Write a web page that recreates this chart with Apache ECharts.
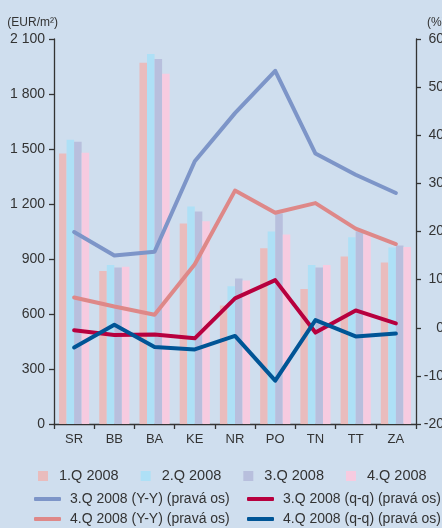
<!DOCTYPE html>
<html>
<head>
<meta charset="utf-8">
<script src="https://cdn.jsdelivr.net/npm/echarts@6/dist/echarts.min.js"></script>
<style>
  html, body { margin: 0; padding: 0; background: #cfdeee; }
  #chart { width: 442px; height: 528px; }
</style>
</head>
<body>
<div id="chart"></div>
<script>
// kraje
const regions = ['SR', 'BB', 'BA', 'KE', 'NR', 'PO', 'TN', 'TT', 'ZA']

// ceny (EUR/m2), lava os
const q1 = [1475, 834, 1970, 1094, 647, 958, 736, 914, 881]
const q2 = [1551, 867, 2018, 1186, 751, 1050, 867, 1019, 963]
const q3 = [1540, 854, 1991, 1159, 794, 1148, 854, 1052, 974]
const q4 = [1480, 858, 1911, 1106, 783, 1034, 867, 1034, 965]

// zmeny (%), prava os
const q3yy = [19.9, 15.0, 15.8, 34.6, 44.6, 53.4, 36.2, 31.8, 28.0]
const q4yy = [6.3, 4.4, 2.7, 13.2, 28.5, 23.9, 25.9, 20.6, 17.4]
const q3qq = [-0.5, -1.5, -1.4, -2.2, 6.1, 9.9, -1.0, 3.6, 0.9]
const q4qq = [-4.1, 0.6, -4.0, -4.5, -1.7, -11.0, 1.6, -1.8, -1.2]

const barNames = ['1.Q 2008', '2.Q 2008', '3.Q 2008', '4.Q 2008']
const lineNames = [
  '3.Q 2008 (Y-Y) (pravá os)',
  '4.Q 2008 (Y-Y) (pravá os)',
  '3.Q 2008 (q-q) (pravá os)',
  '4.Q 2008 (q-q) (pravá os)'
]

const font = "'Liberation Sans', Arial, sans-serif"
const txt = '#333333'

const chart = echarts.init(document.getElementById('chart'))

const bar = (name, data, color) => ({
  name: name,
  type: 'bar',
  yAxisIndex: 0,
  barGap: 0,
  barCategoryGap: '25%',
  itemStyle: { color: color },
  data: data
})

const line = (name, data, color) => ({
  name: name,
  type: 'line',
  yAxisIndex: 1,
  showSymbol: false,
  symbol: 'none',
  lineStyle: { width: 4, color: color, cap: 'round', join: 'round' },
  itemStyle: { color: color },
  data: data
})

const lineLegend = (left, names) => ({
  left: left,
  top: 491,
  padding: 0,
  orient: 'vertical',
  icon: 'roundRect',
  itemWidth: 27,
  itemHeight: 4,
  itemGap: 4,
  textStyle: { fontSize: 14, color: txt, lineHeight: 16, padding: [0, 0, 0, 4] },
  data: names
})

chart.setOption({
  backgroundColor: '#cfdeee',
  animation: false,
  textStyle: { fontFamily: font },
  // labels on the right run past the edge, like in the original
  grid: { left: 54, right: 26, top: 39, bottom: 104, outerBoundsMode: 'none' },
  legend: [
    {
      left: 38,
      top: 468,
      padding: 0,
      icon: 'rect',
      itemWidth: 10,
      itemHeight: 10,
      itemGap: 22,
      textStyle: { fontSize: 14.5, color: txt, lineHeight: 16, padding: [0, 0, 0, 6] },
      data: barNames
    },
    lineLegend(34, [lineNames[0], lineNames[1]]),
    lineLegend(247, [lineNames[2], lineNames[3]])
  ],
  xAxis: {
    type: 'category',
    data: regions,
    axisLine: { lineStyle: { color: '#333', width: 1.3 } },
    axisTick: { show: true, length: 5, lineStyle: { color: '#333', width: 1.3 } },
    axisLabel: { color: txt, fontSize: 13, margin: 9 }
  },
  yAxis: [
    {
      type: 'value',
      min: 0,
      max: 2100,
      interval: 300,
      name: '(EUR/m²)',
      nameLocation: 'end',
      nameGap: 10,
      nameTextStyle: { color: txt, fontSize: 12, align: 'right', padding: [0, -4, 0, 0] },
      splitLine: { show: false },
      axisLine: { show: true, lineStyle: { color: '#333', width: 1.3 } },
      axisTick: { show: true, length: 5, lineStyle: { color: '#333', width: 1.3 } },
      axisLabel: {
        color: txt,
        fontSize: 14,
        margin: 9,
        formatter: function (v) {
          return String(v).replace(/\B(?=(\d{3})+(?!\d))/g, ' ')
        }
      }
    },
    {
      type: 'value',
      min: -20,
      max: 60,
      interval: 10,
      name: '(%)',
      nameLocation: 'end',
      nameGap: 10,
      nameTextStyle: { color: txt, fontSize: 12, align: 'left', padding: [0, 0, 0, 11] },
      splitLine: { show: false },
      axisLine: { show: true, lineStyle: { color: '#333', width: 1.3 } },
      axisTick: { show: true, length: 5, lineStyle: { color: '#333', width: 1.3 } },
      axisLabel: { color: txt, fontSize: 14, margin: 28, align: 'right' }
    }
  ],
  series: [
    bar(barNames[0], q1, '#e9bcbd'),
    bar(barNames[1], q2, '#aee0f6'),
    bar(barNames[2], q3, '#b8bfdd'),
    bar(barNames[3], q4, '#f7cbe0'),
    line(lineNames[0], q3yy, '#7d95c8'),
    line(lineNames[1], q4yy, '#de8888'),
    line(lineNames[2], q3qq, '#b7003e'),
    line(lineNames[3], q4qq, '#005596')
  ]
})
</script>
</body>
</html>
